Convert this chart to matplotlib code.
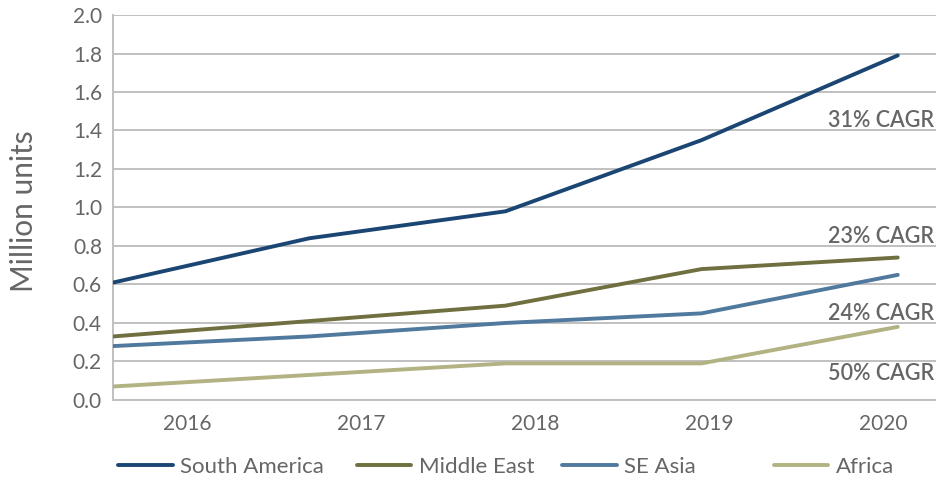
import matplotlib.pyplot as plt

plt.rcParams['font.family'] = ['Lato', 'DejaVu Sans']

years = ['2016', '2017', '2018', '2019', '2020']
south_america = [0.61, 0.84, 0.98, 1.35, 1.79]
middle_east = [0.33, 0.41, 0.49, 0.68, 0.74]
se_asia = [0.28, 0.33, 0.40, 0.45, 0.65]
africa = [0.07, 0.13, 0.19, 0.19, 0.38]

series = [
    ('South America', south_america, '#1b4673'),
    ('Middle East', middle_east, '#6f6f3f'),
    ('SE Asia', se_asia, '#50799e'),
    ('Africa', africa, '#b2b283'),
]
cagr_labels = ['31% CAGR', '23% CAGR', '24% CAGR', '50% CAGR']
cagr_y = [1.45, 0.85, 0.45, 0.135]

text_grey = '#666666'
grid_grey = '#c0c0c0'


def main():
    fig = plt.figure(figsize=(9.37, 4.84), dpi=100)
    ax = fig.add_axes([0.1206, 0.1736, 0.8794, 0.7954])

    xs = list(range(len(years)))
    lines = []
    for name, vals, col in series:
        ln, = ax.plot(xs, vals, color=col, lw=2.8, solid_capstyle='round',
                      label=name, zorder=3)
        lines.append(ln)

    ax.set_xlim(0, 4.2)
    ax.set_ylim(0, 2.0)
    ax.set_yticks([i * 0.2 for i in range(11)])
    ax.set_yticklabels(['%.1f' % (i * 0.2) for i in range(11)])
    # category labels sit offset from the data points in the original
    ax.set_xticks([0.38 + i * 0.887 for i in range(len(years))])
    ax.set_xticklabels(years)

    ax.grid(axis='y', color=grid_grey, lw=1.4)
    ax.set_axisbelow(True)
    for side in ['top', 'right']:
        ax.spines[side].set_visible(False)
    for side in ['left', 'bottom']:
        ax.spines[side].set_color(grid_grey)
        ax.spines[side].set_linewidth(1.4)
    ax.tick_params(length=0, colors=text_grey, labelsize=15)
    ax.tick_params(axis='y', pad=8)
    ax.tick_params(axis='x', pad=10)

    fig.text(0.026, 0.563, 'Million units', rotation=90, ha='center',
             va='center', fontsize=21.5, color=text_grey)

    for lab, y in zip(cagr_labels, cagr_y):
        ax.text(0.996, y, lab, transform=ax.get_yaxis_transform(),
                ha='right', va='center', fontsize=15.5, color=text_grey,
                fontweight='semibold')

    leg_x = [0.126, 0.381, 0.600, 0.826]
    for ln, x in zip(lines, leg_x):
        fig.legend([ln], [ln.get_label()], loc='center left',
                   bbox_to_anchor=(x, 0.035), frameon=False, fontsize=16,
                   handlelength=2.45, handletextpad=0.35, borderaxespad=0,
                   borderpad=0, labelcolor=text_grey)

    fig.savefig('out.png', dpi=100)


if __name__ == '__main__':
    main()
